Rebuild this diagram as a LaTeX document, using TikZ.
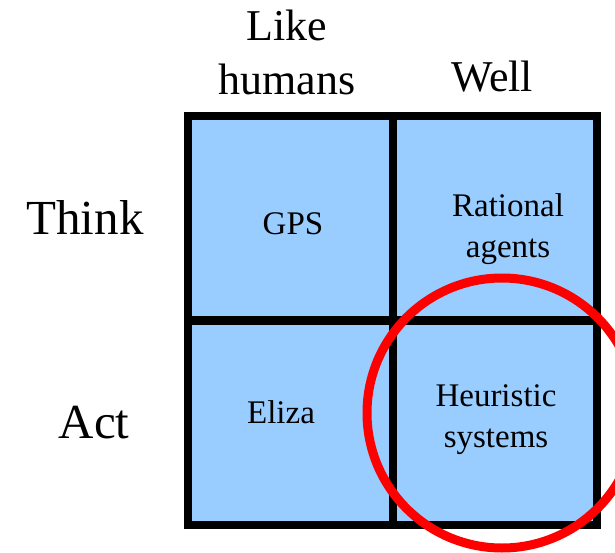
\documentclass[tikz,border=0pt]{standalone}
\usepackage{fontspec}
\setmainfont{Liberation Serif}
\begin{document}
\begin{tikzpicture}[x=1pt,y=-1pt,
  cell/.style={draw=black,line width=8pt,fill=cellblue,minimum width=204.5pt,minimum height=204pt,inner sep=0pt,outer sep=0pt},
  celltext/.style={font=\fontsize{33}{40.5}\selectfont,align=center,anchor=base,inner sep=0pt},
  collabel/.style={font=\fontsize{44}{54}\selectfont,align=center,anchor=base,inner sep=0pt},
  rowlabel/.style={font=\fontsize{49}{58}\selectfont,anchor=base,inner sep=0pt},
  ring/.style={draw=ringred,line width=9pt}]
\definecolor{cellblue}{HTML}{99CCFF}
\definecolor{ringred}{HTML}{FF0000}
\useasboundingbox (0,0) rectangle (615,553);
\clip (0,0) rectangle (615,553);

% the four cells of the grid
\node[cell] (tl) at (290.25,218) {};
\node[cell] (tr) at (494.75,218) {};
\node[cell] (bl) at (290.25,422.5) {};
\node[cell] (br) at (494.75,422.5) {};

% cell contents (base anchor sits on the last line)
\node[celltext] (gps) at (293,235) {GPS};
\node[celltext] (rat) at (508,257) {Rational\\agents};
\node[celltext] (eliza) at (281,423) {Eliza};
\node[celltext] (heur) at (496,447) {Heuristic\\systems};

% column and row headings
\node[collabel] (like) at (287,95) {Like\\humans};
\node[collabel] (well) at (492,92) {Well};
\node[rowlabel] (think) at (85,234) {Think};
\node[rowlabel] (act) at (94,438) {Act};

% red ring around the lower right cell
\draw[ring] (br.center) ++(7.25,-9.5) circle[radius=135];
\end{tikzpicture}
\end{document}
